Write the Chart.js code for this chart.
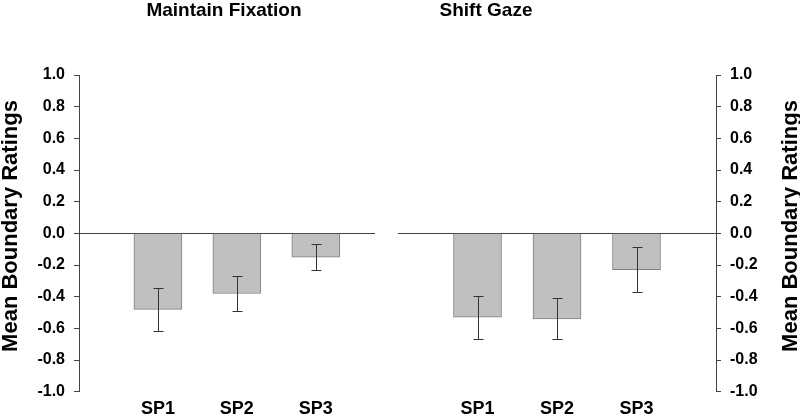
<!DOCTYPE html>
<html>
<head>
<meta charset="UTF-8">
<title>Mean Boundary Ratings</title>
<style>
  body { margin: 0; background: #fff; }
  #wrap { position: relative; width: 800px; height: 416px; }
  canvas { position: absolute; top: 0; }
  #leftChart { left: 0; }
  #rightChart { left: 390px; }
</style>
<script src="https://cdn.jsdelivr.net/npm/chart.js"></script>
</head>
<body>
<div id="wrap">
  <canvas id="leftChart" width="390" height="416"></canvas>
  <canvas id="rightChart" width="410" height="416"></canvas>
</div>
<script>
const categories = ['SP1', 'SP2', 'SP3'];
const fixationMeans = [-0.48, -0.38, -0.15];
const fixationErrors = [0.135, 0.11, 0.084];
const gazeMeans = [-0.53, -0.54, -0.23];
const gazeErrors = [0.135, 0.13, 0.142];
const yAxisTitle = 'Mean Boundary Ratings';

const FONT = '"Liberation Sans", Arial, Helvetica, sans-serif';
const LINE = '#444';

// error bars, panel title and the rotated axis title
const extras = {
    id: 'extras',
    afterDatasetsDraw(chart, args, opts) {
        const ctx = chart.ctx;
        const y = chart.scales.y;
        const meta = chart.getDatasetMeta(0);
        ctx.save();
        ctx.strokeStyle = '#333';
        ctx.lineWidth = 1;
        meta.data.forEach((bar, i) => {
            const m = opts.means[i], e = opts.errors[i];
            const x = Math.round(bar.x) + 0.5;
            const y1 = Math.round(y.getPixelForValue(m + e)) + 0.5;
            const y2 = Math.round(y.getPixelForValue(m - e)) + 0.5;
            ctx.beginPath();
            ctx.moveTo(x, y1); ctx.lineTo(x, y2);
            ctx.moveTo(x - 5, y1); ctx.lineTo(x + 5, y1);
            ctx.moveTo(x - 5, y2); ctx.lineTo(x + 5, y2);
            ctx.stroke();
        });
        ctx.restore();
    },
    afterDraw(chart, args, opts) {
        const ctx = chart.ctx;
        ctx.save();
        ctx.fillStyle = '#000';
        ctx.textAlign = 'center';
        ctx.textBaseline = 'alphabetic';
        ctx.font = 'bold 19px ' + FONT;
        ctx.fillText(opts.title, opts.titleX, 16);
        ctx.translate(opts.axisX, 226);
        ctx.rotate(-Math.PI / 2);
        ctx.font = 'bold 22px ' + FONT;
        ctx.fillText(yAxisTitle, 0, 0);
        ctx.restore();
    }
};

function makePanel(id, means, errors, side, xMax, axisWidth, padding, title, titleX, axisX) {
    const ctx = document.getElementById(id).getContext('2d');
    return new Chart(ctx, {
        type: 'bar',
        data: {
            datasets: [{
                data: means.map((m, i) => ({ x: i + 1, y: m })),
                backgroundColor: '#c0c0c0',
                borderColor: '#808080',
                borderWidth: 1,
                barThickness: 48
            }]
        },
        plugins: [extras],
        options: {
            responsive: false,
            animation: false,
            layout: { padding: padding },
            plugins: {
                legend: { display: false },
                tooltip: { enabled: false },
                extras: { means: means, errors: errors, title: title, titleX: titleX, axisX: axisX }
            },
            scales: {
                x: {
                    type: 'linear',
                    offset: false,
                    min: 0,
                    max: xMax,
                    afterBuildTicks: s => { s.ticks = categories.map((c, i) => ({ value: i + 1 })); },
                    ticks: {
                        autoSkip: false,
                        maxRotation: 0,
                        padding: 7,
                        color: '#000',
                        font: { family: FONT, size: 18, weight: 'bold' },
                        callback: v => categories[v - 1]
                    },
                    grid: { display: false, offset: false, drawTicks: false },
                    border: { display: false },
                    afterFit: s => { s.height = 24.3; s.paddingLeft = 0; s.paddingRight = 0; }
                },
                y: {
                    position: side,
                    min: -1,
                    max: 1,
                    ticks: {
                        stepSize: 0.2,
                        padding: 9,
                        color: '#000',
                        font: { family: FONT, size: 16, weight: 'bold' },
                        callback: v => (Math.abs(v) < 1e-9 ? 0 : v).toFixed(1)
                    },
                    grid: {
                        color: c => (c.tick && Math.abs(c.tick.value) < 1e-9) ? LINE : 'rgba(0,0,0,0)',
                        tickColor: LINE,
                        tickLength: 5,
                        lineWidth: 1
                    },
                    border: { display: true, color: LINE, width: 1 },
                    afterFit: s => { s.width = axisWidth; s.paddingTop = 0; s.paddingBottom = 0; }
                }
            }
        }
    });
}

makePanel('leftChart', fixationMeans, fixationErrors, 'left', 3.75, 79,
    { top: 75, left: 0, right: 15, bottom: 0 }, 'Maintain Fixation', 224, 17);
makePanel('rightChart', gazeMeans, gazeErrors, 'right', 4, 84,
    { top: 75, left: 8, right: 0, bottom: 0 }, 'Shift Gaze', 96, 407);
</script>
</body>
</html>
